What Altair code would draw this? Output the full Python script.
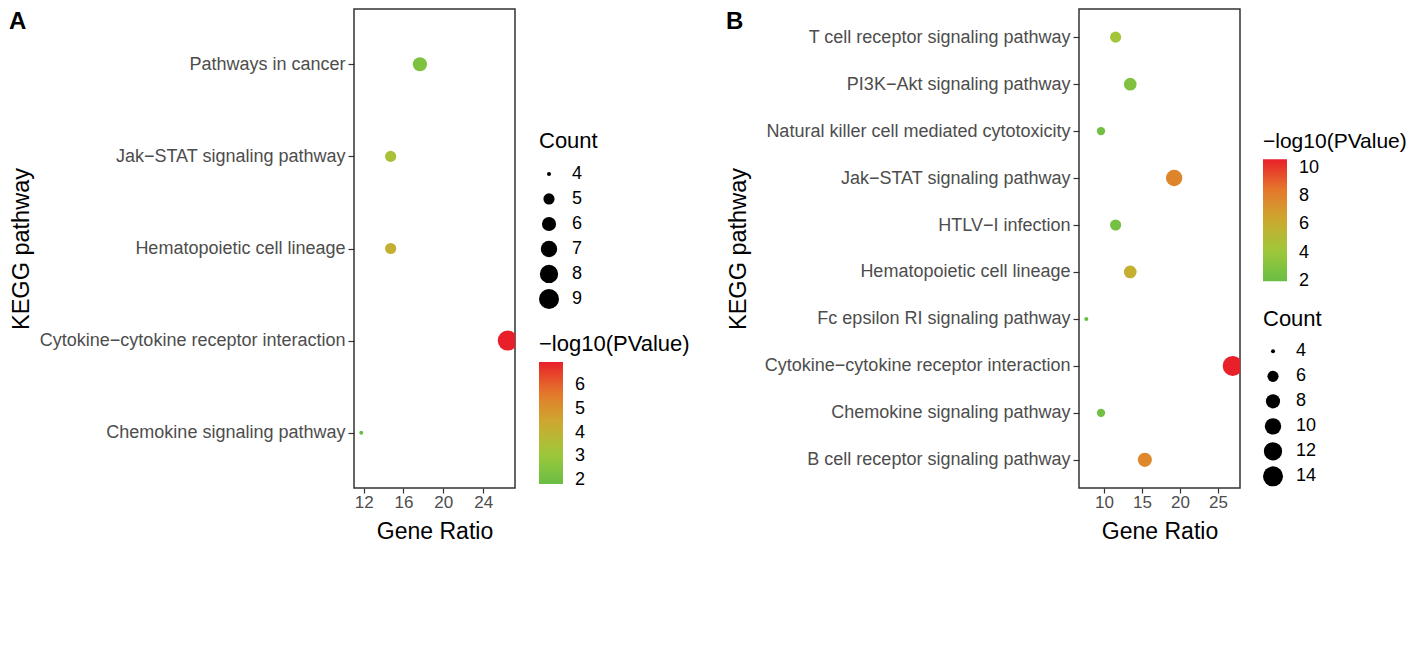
import altair as alt
import pandas as pd

# ---------------- data ----------------
a_pathways = [
    "Pathways in cancer",
    "Jak−STAT signaling pathway",
    "Hematopoietic cell lineage",
    "Cytokine−cytokine receptor interaction",
    "Chemokine signaling pathway",
]
a_ratio = [17.65, 14.71, 14.71, 26.47, 11.76]
a_count = [6, 5, 5, 9, 4]
a_logp = [2.35, 3.4, 4.15, 6.98, 1.84]

b_pathways = [
    "T cell receptor signaling pathway",
    "PI3K−Akt signaling pathway",
    "Natural killer cell mediated cytotoxicity",
    "Jak−STAT signaling pathway",
    "HTLV−I infection",
    "Hematopoietic cell lineage",
    "Fc epsilon RI signaling pathway",
    "Cytokine−cytokine receptor interaction",
    "Chemokine signaling pathway",
    "B cell receptor signaling pathway",
]
b_ratio = [11.54, 13.46, 9.62, 19.23, 11.54, 13.46, 7.69, 26.92, 9.62, 15.38]
b_count = [6, 7, 5, 10, 6, 7, 4, 14, 5, 8]
b_logp = [4.3, 2.9, 2.3, 7.85, 2.45, 5.9, 1.97, 10.6, 2.3, 7.8]

a_xticks = [12, 16, 20, 24]
b_xticks = [10, 15, 20, 25]
a_count_ticks = [4, 5, 6, 7, 8, 9]
b_count_ticks = [4, 6, 8, 10, 12, 14]
a_color_ticks = [2, 3, 4, 5, 6]
b_color_ticks = [2, 4, 6, 8, 10]

# ---------------- styling ----------------
GRAD_T = [0.0, 0.25, 0.5, 0.75, 1.0]
GRAD_COLORS = ["#69BD45", "#9FC83A", "#CCA92F", "#E5782B", "#E8202A"]
# Vega symbol size = (diameter)^2 ; diameters 4 .. 20 px (area-scaled)
SIZE_AREAS = [16, 124.5, 199.4, 268.6, 335.3, 400]
FONT = "Liberation Sans"
PLOT_W, PLOT_H = 161, 479


def panel(letter, names, ratio, count, logp, xdomain, xticks, size_ticks,
          color_ticks, size_pos, color_pos, color_title_size, letter_x, title_x):
    df = pd.DataFrame({"pathway": names, "ratio": ratio, "count": count, "logp": logp})
    lo, hi = min(logp), max(logp)
    cdomain = [lo + t * (hi - lo) for t in GRAD_T]

    points = alt.Chart(df).mark_circle(opacity=1, clip=True).encode(
        x=alt.X(
            "ratio:Q",
            title="Gene Ratio",
            scale=alt.Scale(domain=xdomain, nice=False, zero=False),
            axis=alt.Axis(
                values=xticks, grid=False, domain=False, labelFlush=False,
                labelFontSize=17, labelColor="#4D4D4D", labelFont=FONT,
                tickSize=5, tickColor="#333333", tickWidth=1.2, labelPadding=1,
                titleFontSize=23, titleFontWeight="normal", titleColor="black",
                titleFont=FONT, titlePadding=10,
            ),
        ),
        y=alt.Y(
            "pathway:N",
            sort=names,
            title="KEGG pathway",
            scale=alt.Scale(type="point", padding=0.6),
            axis=alt.Axis(
                grid=False, domain=False, labelFontSize=18, labelColor="#4D4D4D",
                labelFont=FONT, labelLimit=500, tickSize=6, tickColor="#333333",
                tickWidth=1.2, labelPadding=3,
                titleFontSize=23.5, titleFontWeight="normal", titleColor="black",
                titleFont=FONT, titleX=title_x, titleY=PLOT_H / 2,
                titleBaseline="bottom", titleAlign="center", titleAngle=270,
            ),
        ),
        color=alt.Color(
            "logp:Q",
            scale=alt.Scale(domain=cdomain, range=GRAD_COLORS, interpolate="rgb"),
            legend=alt.Legend(
                title="−log10(PValue)", orient="none",
                legendX=color_pos[0], legendY=color_pos[1],
                direction="vertical", gradientLength=122, gradientThickness=24,
                gradientStrokeWidth=0, values=color_ticks, labelOffset=12,
                labelFontSize=18, labelColor="black", labelFont=FONT,
                labelBaseline="middle", labelOverlap=False,
                titleFontSize=color_title_size, titleFontWeight="normal",
                titleColor="black", titleFont=FONT, titlePadding=color_pos[2],
                titleLimit=400, padding=0,
            ),
        ),
        size=alt.Size(
            "count:Q",
            scale=alt.Scale(domain=size_ticks, range=SIZE_AREAS),
            legend=alt.Legend(
                title="Count", orient="none",
                legendX=size_pos[0], legendY=size_pos[1],
                values=size_ticks, symbolType="circle",
                symbolFillColor="black", symbolStrokeWidth=0, symbolOpacity=1,
                labelOffset=13, labelFontSize=18, labelColor="black",
                labelFont=FONT, clipHeight=22.5, rowPadding=2,
                titleFontSize=22, titleFontWeight="normal", titleColor="black",
                titleFont=FONT, titlePadding=size_pos[2], padding=0,
            ),
        ),
    )

    label = alt.Chart(pd.DataFrame({"t": [letter]})).mark_text(
        align="left", baseline="top", fontSize=24, fontWeight="bold",
        font=FONT, color="black",
    ).encode(text="t:N", x=alt.value(letter_x), y=alt.value(1))

    return alt.layer(points, label).properties(width=PLOT_W, height=PLOT_H)


panel_a = panel(
    "A", a_pathways, a_ratio, a_count, a_logp,
    xdomain=[11.03, 27.2], xticks=a_xticks,
    size_ticks=a_count_ticks, color_ticks=a_color_ticks,
    size_pos=(185, 121.7, 10), color_pos=(185, 324.7, 6.3),
    color_title_size=22, letter_x=-345, title_x=-321,
)
panel_b = panel(
    "B", b_pathways, b_ratio, b_count, b_logp,
    xdomain=[6.73, 27.88], xticks=b_xticks,
    size_ticks=b_count_ticks, color_ticks=b_color_ticks,
    size_pos=(184, 299.7, 9.4), color_pos=(184, 121.7, 7.6),
    color_title_size=21, letter_x=-353, title_x=-329,
)

chart = alt.hconcat(panel_a, panel_b, spacing=34).resolve_scale(
    x="independent", y="independent", color="independent", size="independent"
).resolve_legend(
    color="independent", size="independent"
).properties(
    padding=0
).configure(
    font=FONT
).configure_view(
    stroke="#333333", strokeWidth=1.5
)

chart.save("out.html", embed_options={"renderer": "svg", "actions": False})
